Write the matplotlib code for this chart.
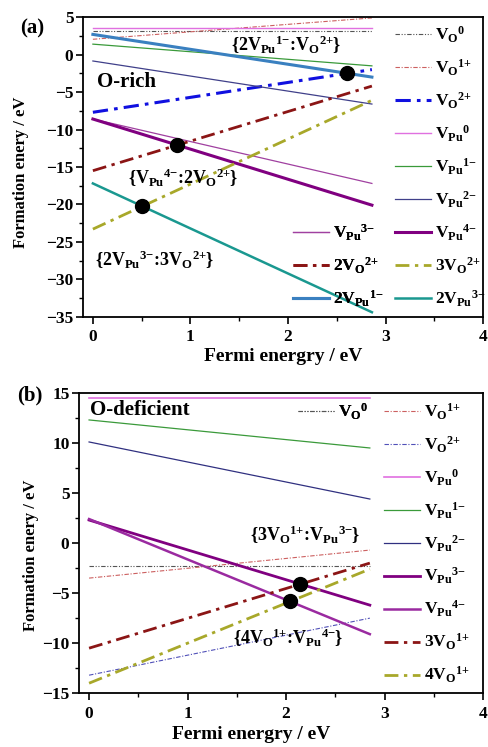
import numpy as np
import matplotlib
matplotlib.use("Agg")
import matplotlib.pyplot as plt
from matplotlib.ticker import MultipleLocator

plt.rcParams['font.family'] = ['Liberation Serif', 'DejaVu Serif']
plt.rcParams['font.weight'] = 'bold'
plt.rcParams['mathtext.fontset'] = 'custom'
plt.rcParams['mathtext.rm'] = 'Liberation Serif'
plt.rcParams['mathtext.it'] = 'Liberation Serif:italic'
plt.rcParams['mathtext.bf'] = 'Liberation Serif:bold'

# ----------------------------
# Data (formation energy at Ef = 0 and at the end of the gap)
# ----------------------------
ef_end_a = 2.86
names_a = [r'V_{O}{}^{0}', r'V_{O}{}^{1{+}}', r'V_{O}{}^{2{+}}', r'V_{Pu}{}^{0}',
           r'V_{Pu}{}^{1{-}}', r'V_{Pu}{}^{2{-}}', r'V_{Pu}{}^{3{-}}', r'V_{Pu}{}^{4{-}}',
           r'2V_{O}{}^{2{+}}', r'3V_{O}{}^{2{+}}', r'2V_{Pu}{}^{1{-}}', r'2V_{Pu}{}^{3{-}}']
start_a = [3.2, 2.05, -7.7, 3.5, 1.4, -0.85, -8.6, -8.6, -15.5, -23.3, 2.7, -17.2]
end_a = [3.2, 4.9, -2.0, 3.5, -1.5, -6.6, -17.2, -20.1, -4.2, -6.1, -3.0, -34.4]
cross_a = [(2, 10), (8, 7), (9, 11)]

ef_end_b = 2.85
names_b = [r'V_{O}{}^{0}', r'V_{O}{}^{1{+}}', r'V_{O}{}^{2{+}}', r'V_{Pu}{}^{0}',
           r'V_{Pu}{}^{1{-}}', r'V_{Pu}{}^{2{-}}', r'V_{Pu}{}^{3{-}}', r'V_{Pu}{}^{4{-}}',
           r'3V_{O}{}^{1{+}}', r'4V_{O}{}^{1{+}}']
start_b = [-2.3, -3.5, -13.2, 14.5, 12.3, 10.1, 2.3, 2.4, -10.5, -14.0]
end_b = [-2.3, -0.7, -7.5, 14.5, 9.5, 4.4, -6.2, -9.1, -2.0, -2.6]
cross_b = [(8, 6), (9, 7)]

# ----------------------------
# Styles
# ----------------------------
dd = (0, (4, 1.5, 1, 1.5, 1, 1.5))
dthin = (0, (4, 1.5, 1, 1.5))
dthick = (0, (5, 2, 1.2, 2))
style_a = [('#555555', 0.8, dd), ('#cc6060', 0.8, dthin), ('#1010e0', 2.2, dthick),
           ('#e070e0', 1.0, '-'), ('#3a9a3a', 0.9, '-'), ('#40408a', 0.9, '-'),
           ('#a040a0', 0.9, '-'), ('#800080', 2.2, '-'), ('#8b1515', 2.0, dthick),
           ('#a8a82a', 2.0, dthick), ('#3a80c0', 2.2, '-'), ('#1a9890', 1.8, '-')]
style_b = [('#555555', 0.8, dd), ('#cc6060', 0.8, dthin), ('#5050b8', 0.8, dthin),
           ('#e070e0', 1.2, '-'), ('#3a9a3a', 0.9, '-'), ('#303080', 0.9, '-'),
           ('#800080', 2.0, '-'), ('#9a2aa0', 1.8, '-'), ('#8b1515', 2.0, dthick),
           ('#a8a82a', 2.0, dthick)]


def bf(s):
    return r'$\mathbf{' + s + '}$'


def pair(a, b):
    # {a:b} with a plain text colon
    return bf(r'\{' + a) + ':' + bf(b + r'\}')


def draw(ax, names, start, end, ef_end, styles, crosses):
    lines = []
    for n, s, e, (c, lw, ls) in zip(names, start, end, styles):
        ln, = ax.plot([0, ef_end], [s, e], color=c, lw=lw, ls=ls, label=bf(n))
        lines.append(ln)
    for i, j in crosses:
        k1 = (end[i] - start[i]) / ef_end
        k2 = (end[j] - start[j]) / ef_end
        x = (start[j] - start[i]) / (k1 - k2)
        ax.plot(x, start[i] + k1 * x, 'o', color='black', ms=10, zorder=5)
    return lines


def style_axes(ax, ylim, ymaj):
    ax.set_xlim(-0.1, 4)
    ax.set_ylim(*ylim)
    ax.xaxis.set_major_locator(MultipleLocator(1))
    ax.xaxis.set_minor_locator(MultipleLocator(0.5))
    ax.yaxis.set_major_locator(MultipleLocator(ymaj))
    ax.yaxis.set_minor_locator(MultipleLocator(ymaj / 2))
    ax.tick_params(which='major', length=5, width=1.2, labelsize=12.5, pad=2)
    ax.tick_params(which='minor', length=3, width=1.0)
    ax.tick_params(axis='x', pad=4)
    for sp in ax.spines.values():
        sp.set_linewidth(1.3)
    for t in ax.get_xticklabels() + ax.get_yticklabels():
        t.set_fontweight('bold')


def make_legend(ax, handles, anchor):
    leg = ax.legend(handles=handles, loc='upper left', bbox_to_anchor=anchor,
                    frameon=False, fontsize=12.5, handlelength=2.05,
                    handletextpad=0.25, labelspacing=0.73,
                    borderpad=0, borderaxespad=0)
    ax.add_artist(leg)
    return leg


def align_row(fig, ax, leg_ref, row, leg, x):
    # move leg so its first row sits level with leg_ref's given row
    fig.canvas.draw()
    inv = ax.transAxes.inverted()
    y_ref = inv.transform(leg_ref.get_texts()[row].get_window_extent().get_points()).mean(axis=0)[1]
    y_cur = inv.transform(leg.get_texts()[0].get_window_extent().get_points()).mean(axis=0)[1]
    top = leg.get_bbox_to_anchor()
    top = inv.transform(top.get_points())[1, 1]
    leg.set_bbox_to_anchor((x, top + y_ref - y_cur), transform=ax.transAxes)


fig = plt.figure(figsize=(4.89, 7.47), dpi=100)

# ----------------------------
# (a) O-rich
# ----------------------------
ax1 = fig.add_axes([0.170, 0.576, 0.818, 0.401])
la = draw(ax1, names_a, start_a, end_a, ef_end_a, style_a, cross_a)
style_axes(ax1, (-35, 5), 5)
leg_r = make_legend(ax1, la[:6] + [la[7], la[9], la[11]], (0.78, 0.975))
leg_l = make_legend(ax1, [la[6], la[8], la[10]], (0.525, 0.3))
ax1.text(1.42, 1.3, pair(r'2V_{Pu}{}^{1{-}}', r'V_{O}{}^{2{+}}'), fontsize=13, va='center')
ax1.text(0.04, -3.7, 'O-rich', fontsize=15, fontweight='bold', va='center')
ax1.text(0.36, -16.5, pair(r'V_{Pu}{}^{4{-}}', r'2V_{O}{}^{2{+}}'), fontsize=13, va='center')
ax1.text(0.02, -27.4, pair(r'2V_{Pu}{}^{3{-}}', r'3V_{O}{}^{2{+}}'), fontsize=13, va='center')
ax1.set_xlabel('Fermi energry / eV', fontsize=14, fontweight='bold')
ax1.set_ylabel('Formation enery / eV', fontsize=12, fontweight='bold')
ax1.xaxis.set_label_coords(0.5, -0.105)
ax1.yaxis.set_label_coords(-0.136, 0.483)

# ----------------------------
# (b) O-deficient
# ----------------------------
ax2 = fig.add_axes([0.162, 0.072, 0.826, 0.402])
lb = draw(ax2, names_b, start_b, end_b, ef_end_b, style_b, cross_b)
style_axes(ax2, (-15, 15), 5)
leg_rb = make_legend(ax2, lb[1:], (0.755, 0.972))
leg_lb = make_legend(ax2, lb[:1], (0.542, 0.972))
ax2.text(0.01, 13.3, 'O-deficient', fontsize=15, fontweight='bold', va='center')
ax2.text(1.63, 0.8, pair(r'3V_{O}{}^{1{+}}', r'V_{Pu}{}^{3{-}}'), fontsize=13, va='center')
ax2.text(1.46, -9.5, pair(r'4V_{O}{}^{1{+}}', r'V_{Pu}{}^{4{-}}'), fontsize=13, va='center')
ax2.set_xlabel('Fermi energry / eV', fontsize=14, fontweight='bold')
ax2.set_ylabel('Formation enery / eV', fontsize=12, fontweight='bold')
ax2.xaxis.set_label_coords(0.425, -0.108)
ax2.yaxis.set_label_coords(-0.10, 0.46)

fig.text(0.041, 0.962, '(a)', fontsize=15, fontweight='bold', va='center')
fig.text(0.035, 0.471, '(b)', fontsize=15, fontweight='bold', va='center')

align_row(fig, ax1, leg_r, 6, leg_l, 0.525)
align_row(fig, ax2, leg_rb, 0, leg_lb, 0.542)

fig.savefig('out.png', dpi=100)
